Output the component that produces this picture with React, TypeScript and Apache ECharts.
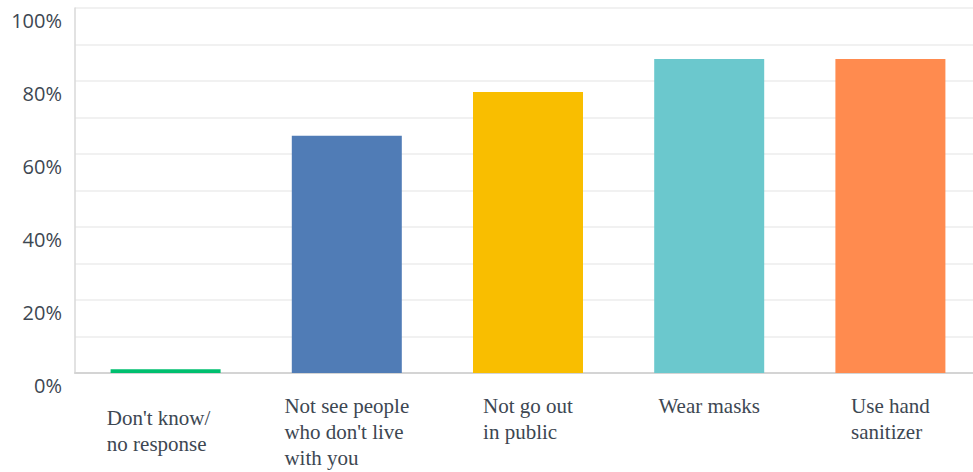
import React, { useEffect, useRef } from "react";
import * as echarts from "echarts";

const categories = [
  ["Don't know/", "no response"],
  ["Not see people", "who don't live", "with you"],
  ["Not go out", "in public"],
  ["Wear masks"],
  ["Use hand", "sanitizer"],
];
const values = [1, 65, 77, 86, 86];
const barColors = ["#00bf6f", "#507cb6", "#f9be00", "#6bc8cd", "#ff8b4f"];
const yTicks = [0, 20, 40, 60, 80, 100];

export default function App() {
  const ref = useRef<HTMLDivElement>(null);
  useEffect(() => {
    if (!ref.current) return;
    const chart = echarts.init(ref.current, null, { renderer: "svg" });
    chart.setOption({
      animation: false,
      backgroundColor: "#ffffff",
      grid: { left: 75, top: 8, right: 0, height: 365, containLabel: false },
      xAxis: {
        type: "category",
        data: categories.map((lines, i) => ({
          value: lines.join("\n"),
          textStyle: i === 0 ? { padding: [12, 14, 0, 0] } : {},
        })),
        axisLine: { show: true, lineStyle: { color: "#d4d4d4", width: 2 } },
        axisTick: { show: false },
        axisLabel: {
          interval: 0,
          margin: 20,
          formatter: (v: string) =>
            v
              .split("\n")
              .map((l) => "{t|" + l + "}")
              .join("\n"),
          rich: {
            t: {
              align: "left",
              fontFamily: "Liberation Serif",
              fontSize: 21,
              lineHeight: 26,
              color: "#3d4752",
            },
          },
          align: "center",
        },
      },
      yAxis: {
        type: "value",
        min: 0,
        max: 100,
        interval: 10,
        axisLine: { show: true, lineStyle: { color: "#d9d9d9", width: 1.5 } },
        axisTick: { show: false },
        splitLine: { show: true, lineStyle: { color: "#ececec", width: 1.5 } },
        axisLabel: {
          margin: 13,
          verticalAlign: "top",
          padding: [2, 0, 0, 0],
          fontFamily: "Open Sans",
          fontSize: 20,
          color: "#3d4752",
          formatter: (v: number) => (yTicks.includes(v) ? v + "%" : ""),
        },
      },
      series: [
        {
          type: "bar",
          barWidth: 110,
          data: values.map((v, i) => ({ value: v, itemStyle: { color: barColors[i] } })),
        },
      ],
    });
    return () => chart.dispose();
  }, []);
  return (
    <div style={{ position: "fixed", left: 0, top: 0, width: 973, height: 472, overflow: "hidden" }}>
      <div ref={ref} style={{ width: 981, height: 472 }} />
    </div>
  );
}
